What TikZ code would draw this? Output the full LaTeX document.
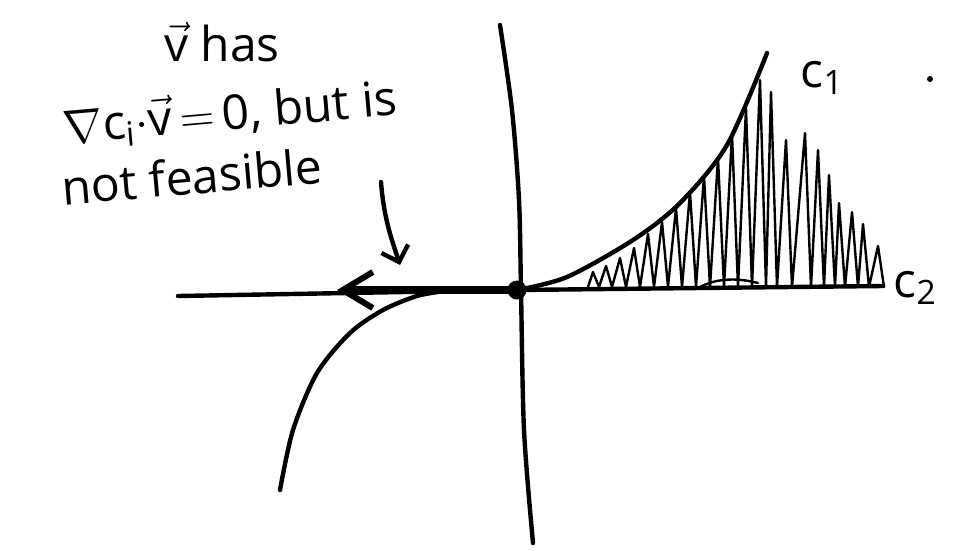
\documentclass[tikz,border=0pt]{standalone}
\usepackage{fix-cm}
\usepackage{amsmath}
\usepackage{fontspec}
\setmainfont{Open Sans}
\usetikzlibrary{arrows.meta}
\newcommand{\vv}{\ensuremath{\vec{\text{v}}}}
\begin{document}
\begin{tikzpicture}[x=1pt,y=-1pt,line cap=round,line join=round,
  pen/.style={line width=4.4pt},
  hatch/.style={line width=2.4pt},
  handtext/.style={font=\fontsize{48}{54}\selectfont,inner sep=0pt,anchor=center},
  barb/.style={-{Straight Barb[length=30pt,width=36pt,line width=6pt]}}]
\useasboundingbox (0,0) rectangle (956,550);
% axes
\draw[pen] plot[smooth] coordinates {(500,25) (512,110) (519,200) (521,290) (524,430) (533,543)};
\coordinate (xl) at (178,296);
\coordinate (xr) at (883,286);
\draw[pen] (xl) -- (517,290) -- (xr);
% curve, left branch
\draw[pen] plot[smooth] coordinates {(280,490) (293,430) (317,373) (350,333) (383,310) (417,296) (445,291)};
% curve C1
\draw[pen] plot[smooth] coordinates {(517,290) (567,277) (633,240) (680,203) (727,145) (767,53)};
% hatching
\draw[hatch] (588,287)
  foreach \x/\y in {593/272,606/266,620/258,634/248,648/234,662/222,676/208,690/192,704/176,718/158,732/134,746/108,760/80,771/92,786/140,805/133,818/150,829/175,839/203,852/212,863/224,878/246}
  { -- (\x,\y) -- (\x+6,287) };
\draw[hatch] (700,287) .. controls (715,279) and (735,277) .. (758,283);
% origin
\node[circle,fill,inner sep=0pt,minimum size=19pt] (o) at (517,290) {};
% thick arrow
\coordinate (tip) at (337,290);
\draw[line width=8pt,barb] (o.center) -- (tip);
% text
\node[handtext] (t1) at (222,42) {\vv{} has};
\node[handtext,rotate=5] (t2) at (230,114) {$\nabla$c$_{\text{i}}\cdot$\vv\,$=$\,0, but is};
\node[handtext,rotate=5] (t3) at (192,176) {not feasible};
\coordinate (as) at (381,182);
\coordinate (ae) at (400,265);
\draw[line width=4.4pt,-{Straight Barb[length=14pt,width=28pt,line width=4.4pt]}] (as) .. controls (384,220) and (392,240) .. (ae);
\node[handtext] (c1) at (822,78) {c$_{\text{1}}$};
\node[handtext] (c2) at (915,288) {c$_{\text{2}}$};
\node[circle,fill,inner sep=0pt,minimum size=6pt] (dot) at (930,79) {};
\end{tikzpicture}
\end{document}
